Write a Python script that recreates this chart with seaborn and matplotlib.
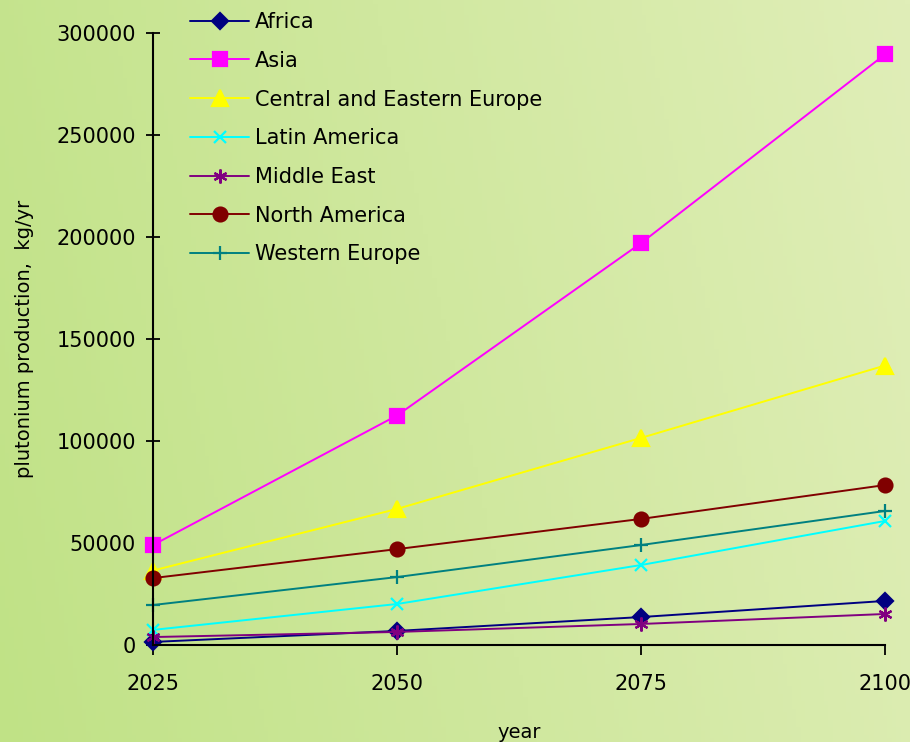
import numpy as np
import pandas as pd
import matplotlib
matplotlib.use('Agg')
import matplotlib.pyplot as plt
import seaborn as sns

# 数据
years = [2025, 2050, 2075, 2100]
regions = ['Africa', 'Asia', 'Central and Eastern Europe', 'Latin America',
           'Middle East', 'North America', 'Western Europe']
africa = [1500, 6900, 13700, 21600]
asia = [49000, 112500, 197000, 289500]
ce_europe = [36500, 66700, 101500, 137000]
latin_america = [7400, 20100, 39200, 60800]
middle_east = [3900, 6400, 10300, 15200]
north_america = [32800, 47000, 61800, 78400]
western_europe = [19600, 33300, 49000, 65700]

colors = ['#000080', '#FF00FF', '#FFFF00', '#00FFFF', '#800080', '#800000', '#008080']
markers = ['D', 's', '^', 'x', (6, 2, 0), 'o', '+']
msizes = [8, 10, 11, 9, 10, 10, 10]

series = [africa, asia, ce_europe, latin_america, middle_east, north_america, western_europe]

sns.set_theme(style='white')
plt.rcParams['font.family'] = ['DejaVu Sans']
plt.rcParams['text.color'] = 'black'
plt.rcParams['axes.labelcolor'] = 'black'

fig = plt.figure(figsize=(9.1, 7.42), dpi=100)

# 背景渐变
bg = fig.add_axes([0, 0, 1, 1], zorder=-10)
gx, gy = np.meshgrid(np.linspace(0, 1, 200), np.linspace(0, 1, 200))
t = np.clip(0.85 * gx + 0.15 * (1 - gy), 0, 1)
c0 = np.array([192, 226, 134]) / 255
c1 = np.array([224, 238, 184]) / 255
img = c0[None, None, :] * (1 - t[..., None]) + c1[None, None, :] * t[..., None]
bg.imshow(img, aspect='auto', extent=[0, 1, 0, 1], origin='upper')
bg.axis('off')

ax = fig.add_axes([153 / 910, 1 - 645 / 742, (885 - 153) / 910, (645 - 33) / 742])
ax.set_facecolor('none')

for name, vals, c, m, ms in zip(regions, series, colors, markers, msizes):
    sns.lineplot(x=years, y=vals, color=c, marker=m, ax=ax,
                 linewidth=1.4, markersize=ms, markeredgewidth=1.6,
                 markeredgecolor=c, markerfacecolor=c, clip_on=False)

ax.set_xlim(2025, 2100)
ax.set_ylim(0, 300000)
ax.set_xticks(years)
ax.set_yticks(np.arange(0, 300001, 50000))
ax.tick_params(axis='y', direction='inout', length=9.5, width=1.3, labelsize=15, pad=7.5,
               left=True, colors='black')
ax.tick_params(axis='x', direction='out', length=7, width=1.3, labelsize=15, pad=14,
               bottom=True, colors='black')
for s in ['top', 'right']:
    ax.spines[s].set_visible(False)
for s in ['left', 'bottom']:
    ax.spines[s].set_color('black')
    ax.spines[s].set_linewidth(1.5)

ax.set_xlabel('year', fontsize=14)
ax.xaxis.set_label_coords(0.5, -0.128)
ax.set_ylabel('plutonium production,  kg/yr', fontsize=14)
ax.yaxis.set_label_coords(-0.163, 0.5)

# 图例
handles = [plt.Line2D([], [], color=c, marker=m, markersize=ms, markeredgewidth=1.6,
                      markerfacecolor=c, markeredgecolor=c, linewidth=1.4)
           for c, m, ms in zip(colors, markers, msizes)]
fig.legend(handles, regions, loc='upper left', bbox_to_anchor=(190 / 910, 1 - 12 / 742),
           frameon=False, fontsize=15, handlelength=2.85, handletextpad=0.25,
           labelspacing=0.9, borderpad=0, borderaxespad=0, labelcolor='black')

plt.savefig('out.png', dpi=100)
